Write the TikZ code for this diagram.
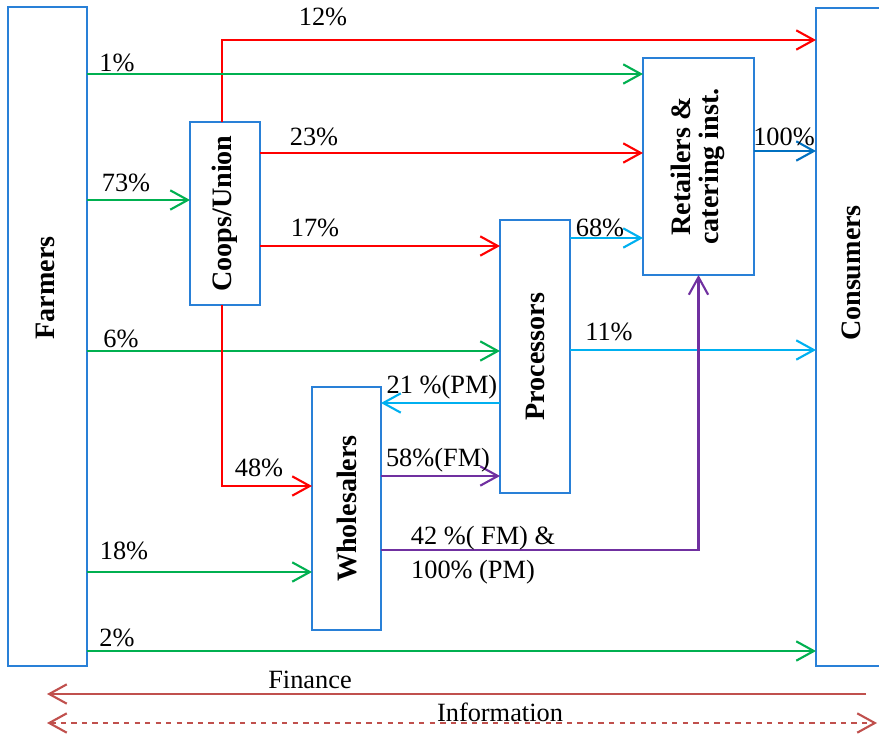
\documentclass[tikz,border=0pt]{standalone}
\usepackage{fontspec}
\setmainfont{Liberation Serif}
\usetikzlibrary{arrows.meta}
\definecolor{boxblue}{RGB}{41,128,215}
\definecolor{fred}{RGB}{255,0,0}
\definecolor{fgreen}{RGB}{0,176,80}
\definecolor{fcyan}{RGB}{0,176,240}
\definecolor{fpurple}{RGB}{112,48,160}
\definecolor{fblue}{RGB}{0,112,192}
\definecolor{fbrown}{RGB}{192,80,77}

\begin{document}
\begin{tikzpicture}[x=0.02cm,y=-0.02cm,
  box/.style={draw=boxblue,line width=0.7pt,rectangle,inner sep=0pt,outer sep=0pt,font=\fontsize{16}{18}\selectfont\bfseries},
  boxtext/.style={inner sep=0pt,font=\fontsize{16}{18}\selectfont\bfseries},
  pct/.style={inner sep=0pt,font=\fontsize{15}{17}\selectfont},
  flow/.style={line width=1.2pt,-{Straight Barb[length=10pt,width=11pt]}}]
\useasboundingbox (0,0) rectangle (879,737);
% boxes
\node[box,minimum width=1.58cm,minimum height=13.18cm] (farmers) at (47.5,336.5) {};
\node[boxtext] (farmerst) at (45,288) {\rotatebox{90}{Farmers}};
\node[box,minimum width=1.68cm,minimum height=13.16cm] (consumers) at (858,337) {};
\node[boxtext] (consumerst) at (851,273) {\rotatebox{90}{Consumers}};
\node[box,minimum width=1.4cm,minimum height=3.66cm] (coops) at (225,213.5) {\rotatebox{90}{Coops/Union}};
\node[box,minimum width=2.22cm,minimum height=4.34cm] (retail) at (698.5,166.5) {\rotatebox{90}{\begin{tabular}{@{}c@{}}Retailers \&\\[-2pt]catering inst.\end{tabular}}};
\node[box,minimum width=1.4cm,minimum height=5.46cm] (proc) at (535,356.5) {\rotatebox{90}{Processors}};
\node[box,minimum width=1.38cm,minimum height=4.86cm] (wholes) at (346.5,508.5) {\rotatebox{90}{Wholesalers}};
% flows
\draw[flow,fred] ([xshift=-0.06cm]coops.north) |- (consumers.west |- 0,40);
\draw[flow,fgreen] (farmers.east |- 0,74) -- (retail.west |- 0,74);
\draw[flow,fred] (coops.east |- 0,153) -- (retail.west |- 0,153);
\draw[flow,fgreen] (farmers.east |- 0,200) -- (coops.west |- 0,200);
\draw[flow,fred] (coops.east |- 0,246) -- (proc.west |- 0,246);
\draw[flow,fcyan] (proc.east |- 0,238) -- (retail.west |- 0,238);
\draw[flow,fblue] (retail.east |- 0,151) -- (consumers.west |- 0,151);
\draw[flow,fgreen] (farmers.east |- 0,351) -- (proc.west |- 0,351);
\draw[flow,fcyan] (proc.east |- 0,350) -- (consumers.west |- 0,350);
\draw[flow,fcyan] (proc.west |- 0,403) -- (wholes.east |- 0,403);
\draw[flow,fred] ([xshift=-0.06cm]coops.south) |- (wholes.west |- 0,486);
\draw[flow,fpurple] (wholes.east |- 0,476) -- (proc.west |- 0,476);
\draw[flow,fpurple] (wholes.east |- 0,550) -| (retail.south);
\draw[flow,fgreen] (farmers.east |- 0,572) -- (wholes.west |- 0,572);
\draw[flow,fgreen] (farmers.east |- 0,651) -- (consumers.west |- 0,651);
% finance and information
\coordinate (finr) at (866,694);
\coordinate (finl) at (47,694);
\coordinate (infl) at (47,723);
\coordinate (infr) at (877,723);
\draw[flow,fbrown] (finr) -- (finl);
\draw[flow,fbrown,dashed,{Straight Barb[length=10pt,width=11pt]}-{Straight Barb[length=10pt,width=11pt]}] (infl) -- (infr);
% labels
\node[pct] (l12) at (323,17) {12\%};
\node[pct] (l1) at (117,63) {1\%};
\node[pct] (l23) at (314,137) {23\%};
\node[pct] (l73) at (126,183) {73\%};
\node[pct] (l17) at (315,228) {17\%};
\node[pct] (l68) at (600,228) {68\%};
\node[pct] (l100) at (784,137) {100\%};
\node[pct] (l6) at (121,339) {6\%};
\node[pct] (l11) at (609,332) {11\%};
\node[pct] (l21) at (442,387) {21 \%(PM)};
\node[pct] (l48) at (259,468) {48\%};
\node[pct] (l58) at (438,460) {58\%(FM)};
\node[pct] (l42) at (483,538) {42 \%( FM) \&};
\node[pct] (l42b) at (473,572) {100\% (PM)};
\node[pct] (l18) at (124,551) {18\%};
\node[pct] (l2) at (117,638) {2\%};
\node[pct] (lfin) at (310,680) {Finance};
\node[pct] (linf) at (500,712) {Information};
\end{tikzpicture}
\end{document}
